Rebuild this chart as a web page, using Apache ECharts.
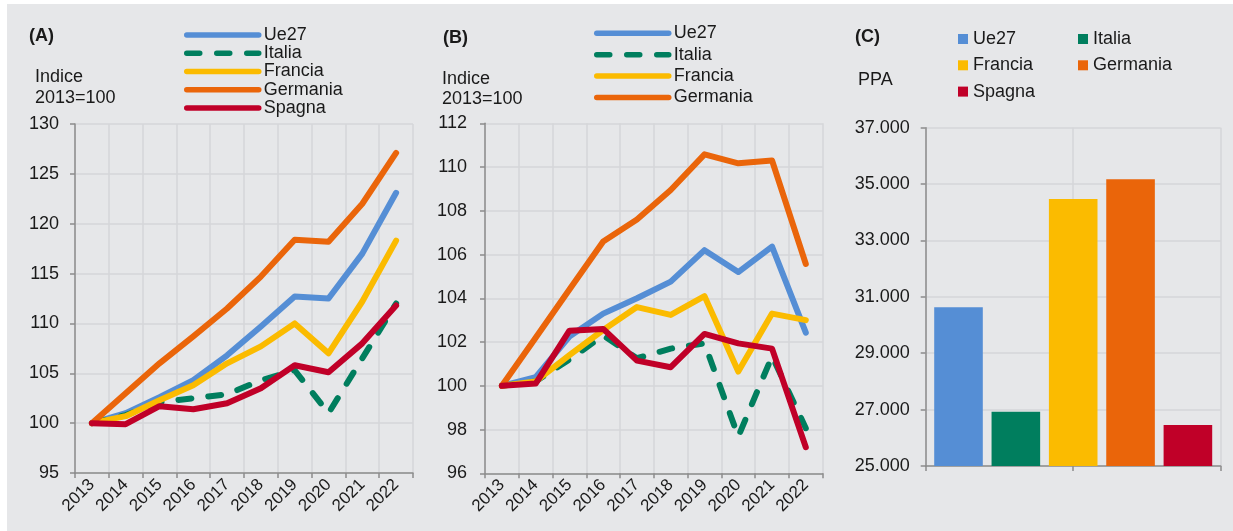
<!DOCTYPE html>
<html><head><meta charset="utf-8">
<script src="https://cdn.jsdelivr.net/npm/echarts@6/dist/echarts.min.js"></script>
<style>
html,body{margin:0;padding:0;background:#fff;}
#wrap{position:relative;width:1233px;height:531px;overflow:hidden;}
#bg{position:absolute;left:7px;top:4px;right:0;bottom:0;background:#e6e7e9;}
#c{position:absolute;left:0;top:0;width:1233px;height:531px;}
</style></head><body>
<div id="wrap"><div id="bg"></div><div id="c"></div></div>
<script>
// ---- data ----
const years = ['2013','2014','2015','2016','2017','2018','2019','2020','2021','2022'];
const seriesNames = ['Ue27','Italia','Francia','Germania','Spagna'];

// Panel A: Indice 2013=100
const ue27A     = [100, 101.0, 102.6, 104.3, 106.8, 109.7, 112.7, 112.5, 117.0, 123.1];
const italiaA   = [100, 100.8, 102.1, 102.5, 102.9, 104.3, 105.3, 101.0, 106.5, 112.0];
const franciaA  = [100, 100.7, 102.3, 103.8, 106.0, 107.7, 110.0, 107.0, 112.2, 118.3];
const germaniaA = [100, 103.0, 106.0, 108.7, 111.5, 114.7, 118.4, 118.2, 122.0, 127.1];
const spagnaA   = [100, 99.9, 101.7, 101.4, 102.0, 103.5, 105.8, 105.1, 108.0, 111.8];

// Panel B: Indice 2013=100
const ue27B     = [100, 100.4, 102.25, 103.3, 104.0, 104.76, 106.2, 105.2, 106.36, 102.43];
const italiaB   = [100, 100.2, 101.2, 102.3, 101.26, 101.7, 101.94, 97.68, 101.35, 98.06];
const franciaB  = [100, 100.2, 101.4, 102.55, 103.6, 103.24, 104.1, 100.65, 103.3, 103.0];
const germaniaB = [100, 102.2, 104.4, 106.6, 107.6, 108.95, 110.58, 110.17, 110.3, 105.57];
const spagnaB   = [100, 100.1, 102.52, 102.6, 101.15, 100.85, 102.37, 101.94, 101.7, 97.19];

// Panel C: PPA
const ppaC = [30630, 26920, 34470, 35170, 26450];

const colors = {Ue27:'#558ed5', Italia:'#007e5e', Francia:'#fbbb00', Germania:'#ea650a', Spagna:'#c00028'};

// ---- styles ----
const FF = "'Liberation Sans', Arial, sans-serif";
const TXT = '#1a1a1a';
const AXC = '#8c8c8c';
const GRC = '#d5d6d8';

function fmtDot(v){ return String(Math.round(v)).replace(/\B(?=(\d{3})+(?!\d))/g, '.'); }

function lineSeries(name, data, idx){
  const dashed = name === 'Italia';
  return {
    type:'line', name, data, xAxisIndex:idx, yAxisIndex:idx,
    symbol:'none', animation:false, silent:true,
    lineStyle:{color:colors[name], width:6, type: dashed ? [13,17] : 'solid', cap:'round', join:'round'},
    itemStyle:{color:colors[name]}
  };
}
function catX(idx){
  return {
    gridIndex:idx, type:'category', data:years, boundaryGap:true,
    axisLine:{show:true, lineStyle:{color:AXC, width:1.5}},
    axisTick:{show:true, length:5, lineStyle:{color:AXC, width:1.5}},
    axisLabel:{rotate:45, interval:0, fontSize:17, color:TXT, fontFamily:FF, margin:9},
    splitLine:{show:true, lineStyle:{color:GRC, width:1.5}}
  };
}
function valY(idx, min, max, interval, margin, fmt){
  return {
    gridIndex:idx, type:'value', min, max, interval,
    axisLine:{show:true, lineStyle:{color:AXC, width:1.5}},
    axisTick:{show:true, length:5, lineStyle:{color:AXC, width:1.5}},
    axisLabel:{fontSize:18, color:TXT, fontFamily:FF, margin, formatter: fmt},
    splitLine:{show:true, lineStyle:{color:GRC, width:1.5}}
  };
}
function lineLegend(data, left, top, gap){
  return {
    data, orient:'vertical', left, top, padding:0, itemGap:gap,
    itemWidth:72, itemHeight:2, selectedMode:false,
    lineStyle:{width:5.5}, itemStyle:{opacity:0},
    textStyle:{fontSize:18, color:TXT, fontFamily:FF, lineHeight:18}
  };
}
function boxLegend(data, left, top, gap){
  return {
    data, orient:'vertical', left, top, padding:0, itemGap:gap,
    icon:'rect', itemWidth:10, itemHeight:10, selectedMode:false,
    textStyle:{fontSize:18, color:TXT, fontFamily:FF, lineHeight:18}
  };
}
function ttl(text, left, top, bold, lh){
  return {text, left, top, padding:0,
    textStyle:{fontSize:18, fontWeight: bold ? 'bold' : 'normal', color:TXT, fontFamily:FF, lineHeight: lh || 18}};
}

const series = [];
const dataA = {Ue27:ue27A, Italia:italiaA, Francia:franciaA, Germania:germaniaA, Spagna:spagnaA};
const dataB = {Ue27:ue27B, Italia:italiaB, Francia:franciaB, Germania:germaniaB, Spagna:spagnaB};
seriesNames.forEach(n => series.push(lineSeries(n, dataA[n], 0)));
seriesNames.forEach(n => series.push(lineSeries(n, dataB[n], 1)));
seriesNames.forEach((n, i) => {
  series.push({
    type:'bar', name:n, data:[ppaC[i]], xAxisIndex:2, yAxisIndex:2,
    barWidth:48.6, barGap:'18%', animation:false, silent:true,
    itemStyle:{color:colors[n]}
  });
});

const option = {
  backgroundColor:'transparent',
  animation:false,
  title:[
    ttl('(A)', 29, 27, true),
    ttl('Indice\n2013=100', 35, 66.5, false, 21),
    ttl('(B)', 443, 29.5, true),
    ttl('Indice\n2013=100', 442, 69.5, false, 20),
    ttl('(C)', 855, 28, true),
    ttl('PPA', 858, 71, false)
  ],
  legend:[
    lineLegend(['Ue27','Italia','Francia','Germania','Spagna'], 184, 26, 0.25),
    lineLegend(['Ue27','Italia','Francia','Germania'], 594, 24.3, 3.4),
    boxLegend(['Ue27','Francia','Spagna'], 958, 30, 8.3),
    boxLegend(['Italia','Germania'], 1078, 30, 8.3)
  ],
  grid:[
    {left:75, top:124, width:338, height:349},
    {left:485, top:123.3, width:337.7, height:350},
    {left:925.7, top:127.7, width:295, height:338.3}
  ],
  xAxis:[
    catX(0), catX(1),
    {gridIndex:2, type:'category', data:[''], boundaryGap:true,
     axisLine:{show:true, lineStyle:{color:AXC, width:1.5}},
     axisTick:{show:false}, axisLabel:{show:false}, splitLine:{show:false}},
    {gridIndex:2, type:'value', min:0, max:2, interval:1, position:'bottom',
     axisLine:{show:false},
     axisTick:{show:true, length:5, lineStyle:{color:AXC, width:1.5}},
     axisLabel:{show:false},
     splitLine:{show:true, lineStyle:{color:GRC, width:1.5}}}
  ],
  yAxis:[
    valY(0, 95, 130, 5, 16),
    valY(1, 96, 112, 2, 18),
    valY(2, 25000, 37000, 2000, 16, fmtDot)
  ],
  series
};

const chart = echarts.init(document.getElementById('c'), null, {renderer:'canvas'});
chart.setOption(option);
</script>
</body></html>
